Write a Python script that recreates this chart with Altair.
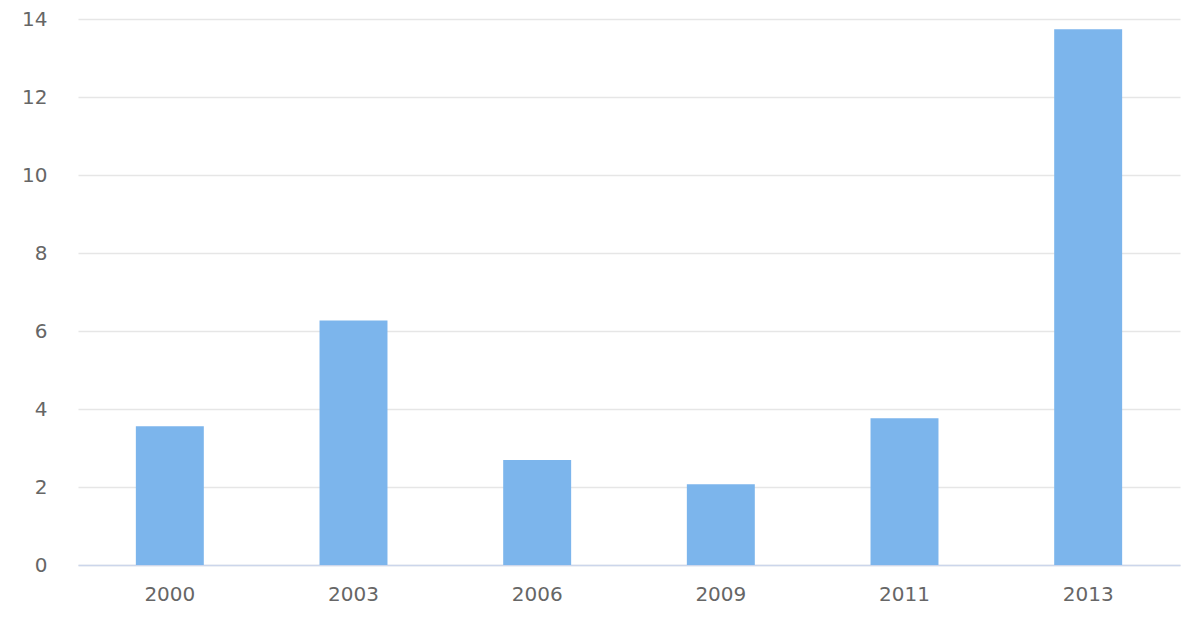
import altair as alt
import pandas as pd

years = ["2000", "2003", "2006", "2009", "2011", "2013"]
values = [3.56, 6.27, 2.69, 2.07, 3.76, 13.74]

df = pd.DataFrame({"year": years, "value": values})

chart = alt.Chart(df).mark_bar(color="#7cb5ec").encode(
    x=alt.X("year:N", sort=years, title=None,
            scale=alt.Scale(paddingInner=0.63, paddingOuter=0.315),
            axis=alt.Axis(labelAngle=0, labelFont="DejaVu Sans", labelFontSize=20,
                          labelColor="#666666", labelPadding=19, ticks=False,
                          domainColor="#ccd6eb", domainWidth=1.5, grid=False)),
    y=alt.Y("value:Q", title=None,
            scale=alt.Scale(domain=[0, 14], nice=False),
            axis=alt.Axis(values=[0, 2, 4, 6, 8, 10, 12, 14], labelFont="DejaVu Sans",
                          labelFontSize=20, labelColor="#666666", labelPadding=31,
                          ticks=False, domain=False, gridColor="#e6e6e6", gridWidth=1.5)),
).properties(
    width=1102, height=546,
    autosize=alt.AutoSizeParams(type="none"),
    padding={"left": 70, "top": 11, "right": 12, "bottom": 60},
).configure_view(stroke=None)

chart.save("out.html", embed_options={"renderer": "svg", "actions": False})
